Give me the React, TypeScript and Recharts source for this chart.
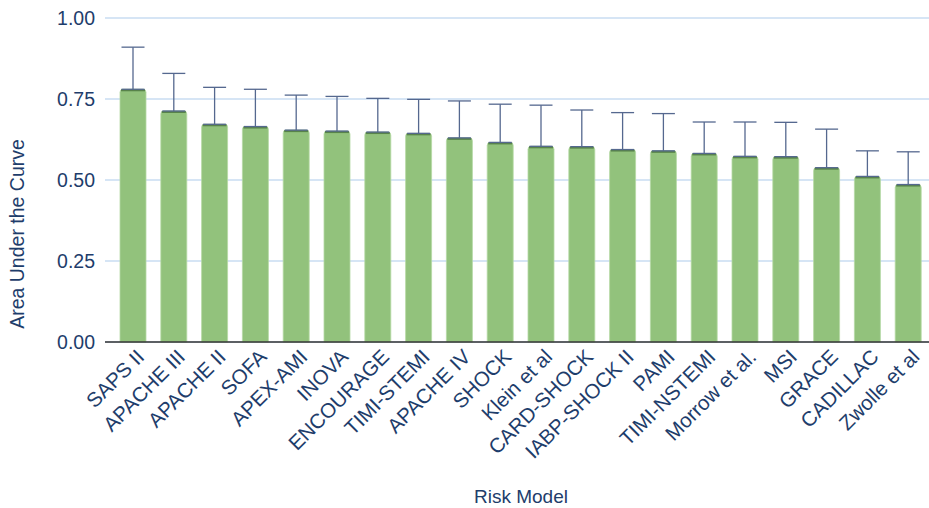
import React from "react"
import {
  Bar,
  BarChart,
  CartesianGrid,
  ErrorBar,
  XAxis,
  YAxis,
} from "recharts"

const models = [
  "SAPS II",
  "APACHE III",
  "APACHE II",
  "SOFA",
  "APEX-AMI",
  "INOVA",
  "ENCOURAGE",
  "TIMI-STEMI",
  "APACHE IV",
  "SHOCK",
  "Klein et al",
  "CARD-SHOCK",
  "IABP-SHOCK II",
  "PAMI",
  "TIMI-NSTEMI",
  "Morrow et al.",
  "MSI",
  "GRACE",
  "CADILLAC",
  "Zwolle et al",
]

const auc = [
  0.78, 0.713, 0.672, 0.665, 0.654, 0.651, 0.648, 0.644, 0.63, 0.616,
  0.604, 0.603, 0.594, 0.59, 0.582, 0.573, 0.572, 0.538, 0.511, 0.486,
]

const upperCI = [
  0.91, 0.829, 0.786, 0.78, 0.762, 0.758, 0.752, 0.749, 0.744, 0.734,
  0.731, 0.716, 0.708, 0.705, 0.679, 0.679, 0.678, 0.657, 0.59, 0.587,
]

const yTicks = [0, 0.25, 0.5, 0.75, 1]

const data = models.map((name, i) => ({
  name,
  auc: auc[i],
  err: [0, +(upperCI[i] - auc[i]).toFixed(3)],
}))

const navy = "#1e3d6b"
const font = "'Liberation Sans', Arial, sans-serif"

const BarShape = (props: any) => {
  const { x, y, width, height } = props
  const r = 3
  return (
    <g>
      <path
        d={`M${x},${y + height} L${x},${y + r} Q${x},${y} ${x + r},${y} L${x + width - r},${y} Q${x + width},${y} ${x + width},${y + r} L${x + width},${y + height} Z`}
        fill="#92c27c"
        stroke="#b5d9a5"
        strokeWidth={0.8}
      />
      <rect x={x + 1} y={y} width={width - 2} height={2} fill="#58834a" />
    </g>
  )
}

const XTick = (props: any) => {
  const { x, y, payload } = props
  return (
    <g transform={`translate(${x + 7},${y + 3})`}>
      <text
        x={0}
        y={0}
        dy="0.355em"
        textAnchor="end"
        transform="rotate(-45)"
        fill={navy}
        fontSize={20.5}
        fontFamily={font}
      >
        {payload.value}
      </text>
    </g>
  )
}

export default function App() {
  return (
    <div style={{ position: "absolute", left: 0, top: 0, background: "#fff" }}>
      <BarChart
        width={929}
        height={508}
        data={data}
        margin={{ top: 18, right: 0, left: 0, bottom: 0 }}
        barSize={26}
      >
        <CartesianGrid vertical={false} stroke="#c9dcf2" strokeWidth={1.5} />
        <XAxis
          dataKey="name"
          interval={0}
          height={166}
          padding={{ left: 8, right: 0 }}
          tickLine={false}
          axisLine={{ stroke: "#333", strokeWidth: 1.5 }}
          tick={<XTick />}
          label={{
            content: () => (
              <text
                x={521}
                y={496}
                dy="0.355em"
                textAnchor="middle"
                fill={navy}
                fontSize={19}
                fontFamily={font}
              >
                Risk Model
              </text>
            ),
          }}
        />
        <YAxis
          width={105}
          domain={[0, 1]}
          ticks={yTicks}
          tickFormatter={(v: number) => v.toFixed(2)}
          axisLine={false}
          tickLine={false}
          tickSize={8}
          tickMargin={2}
          tick={{ fill: navy, fontSize: 19.5, fontFamily: font }}
          label={{
            content: () => (
              <text
                x={17}
                y={234}
                dy="0.355em"
                textAnchor="middle"
                transform="rotate(-90, 17, 234)"
                fill={navy}
                fontSize={19.5}
                fontFamily={font}
              >
                Area Under the Curve
              </text>
            ),
          }}
        />
        <Bar dataKey="auc" shape={<BarShape />} isAnimationActive={false}>
          <ErrorBar
            dataKey="err"
            width={11.5}
            stroke="#55688f"
            strokeWidth={1.3}
            direction="y"
          />
        </Bar>
      </BarChart>
    </div>
  )
}
